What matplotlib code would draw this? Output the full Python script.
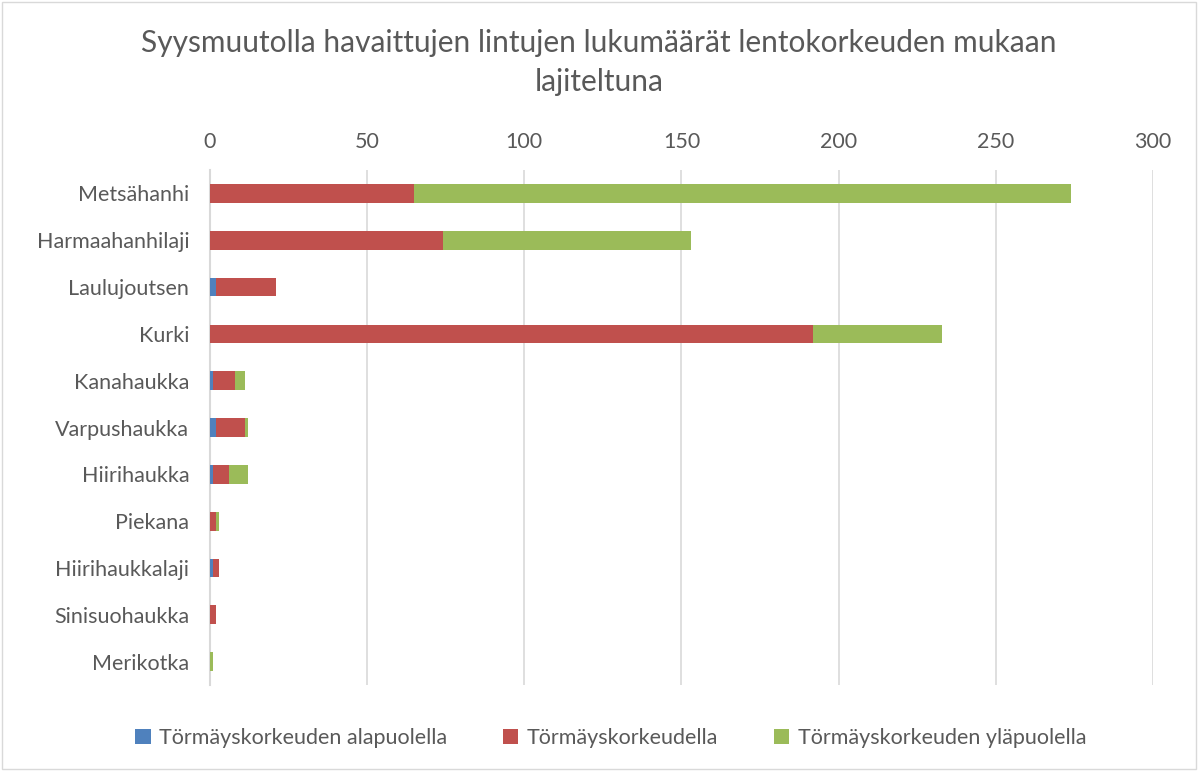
import numpy as np
import matplotlib.pyplot as plt
from matplotlib.patches import Rectangle

plt.rcParams['font.family'] = ['Lato', 'DejaVu Sans']

# Data
species = ['Metsähanhi', 'Harmaahanhilaji', 'Laulujoutsen', 'Kurki', 'Kanahaukka',
           'Varpushaukka', 'Hiirihaukka', 'Piekana', 'Hiirihaukkalaji',
           'Sinisuohaukka', 'Merikotka']
below = [0, 0, 2, 0, 1, 2, 1, 0, 1, 0, 0]
at_height = [65, 74, 19, 192, 7, 9, 5, 2, 2, 2, 0]
above = [209, 79, 0, 41, 3, 1, 6, 1, 0, 0, 1]
series_names = ['Törmäyskorkeuden alapuolella', 'Törmäyskorkeudella',
                'Törmäyskorkeuden yläpuolella']
colors = ['#4F81BD', '#C0504D', '#9BBB59']
text_col = '#595959'

fig = plt.figure(figsize=(11.98, 7.71), dpi=100)
ax = fig.add_axes([0.1753, 0.1115, 0.7871, 0.668])

y = np.arange(len(species))
left = np.zeros(len(species))
for vals, name, c in zip([below, at_height, above], series_names, colors):
    ax.barh(y, vals, left=left, height=0.4, color=c, label=name, zorder=3)
    left += np.array(vals)

ax.set_ylim(len(species) - 0.5, -0.5)
ax.set_xlim(0, 300)
ax.set_xticks(np.arange(0, 301, 50))
ax.xaxis.tick_top()
ax.set_yticks(y)
ax.set_yticklabels(species)
ax.tick_params(axis='both', length=0, labelsize=15.5, labelcolor=text_col)
ax.tick_params(axis='x', pad=13)
ax.tick_params(axis='y', pad=15)
ax.grid(axis='x', color='#D9D9D9', linewidth=1.2, zorder=0)
for s in ['top', 'right', 'bottom']:
    ax.spines[s].set_visible(False)
ax.spines['left'].set_color('#D9D9D9')
ax.spines['left'].set_linewidth(1.5)

fig.suptitle('Syysmuutolla havaittujen lintujen lukumäärät lentokorkeuden mukaan\nlajiteltuna',
             y=0.962, fontsize=21.5, color=text_col, linespacing=1.45)

fig.legend(loc='center', bbox_to_anchor=(0.51, 0.043), ncol=3, frameon=False,
           fontsize=15.5, labelcolor=text_col, handlelength=0.7, handleheight=0.7,
           columnspacing=2.6, handletextpad=0.4)

fig.patches.append(Rectangle((0.002, 0.002), 0.996, 0.996, transform=fig.transFigure,
                             fill=False, edgecolor='#D9D9D9', linewidth=1))

fig.savefig('out.png', dpi=100)
